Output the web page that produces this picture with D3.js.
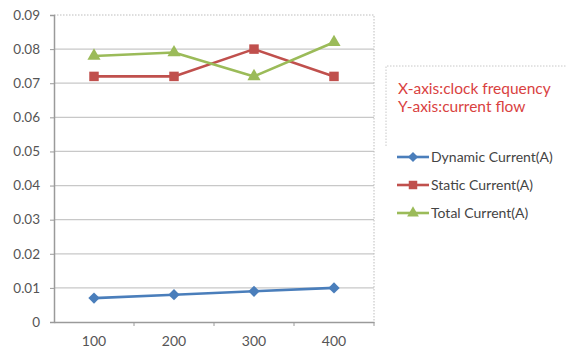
<!DOCTYPE html>
<html>
<head>
<meta charset="utf-8">
<script src="https://cdn.jsdelivr.net/npm/d3@7"></script>
<style>
  html, body { margin: 0; padding: 0; background: #fff; }
  svg { display: block; }
  text { font-family: Lato, "Open Sans", sans-serif; }
</style>
</head>
<body>
<svg id="chart" width="566" height="356"></svg>
<script>
// Clock frequency categories and measured currents (A)
const frequencies = ["100", "200", "300", "400"];
const dynamicCurrent = [0.007, 0.008, 0.009, 0.010];
const staticCurrent = [0.072, 0.072, 0.080, 0.072];
const totalCurrent = [0.078, 0.079, 0.072, 0.082];
const yTicks = [0, 0.01, 0.02, 0.03, 0.04, 0.05, 0.06, 0.07, 0.08, 0.09];
const seriesNames = ["Dynamic Current(A)", "Static Current(A)", "Total Current(A)"];
const noteLines = ["X-axis:clock frequency", "Y-axis:current flow"];

const series = [
  { name: seriesNames[0], values: dynamicCurrent, color: "#4a7ebb", symbol: d3.symbolSquare, size: 64, rotate: 45 },
  { name: seriesNames[1], values: staticCurrent, color: "#c0504d", symbol: d3.symbolSquare, size: 90, rotate: 0 },
  { name: seriesNames[2], values: totalCurrent, color: "#9bbb59", symbol: d3.symbolTriangle, size: 75, rotate: 0 }
];

const svg = d3.select("#chart");
const plot = { left: 54, right: 374, top: 15, bottom: 322 };

const x = d3.scaleBand().domain(frequencies).range([plot.left, plot.right]);
const y = d3.scaleLinear().domain([0, 0.09]).range([plot.bottom, plot.top]);

// Horizontal gridlines
svg.append("g")
  .selectAll("line")
  .data(yTicks.filter(t => t > 0 && t < 0.09))
  .join("line")
  .attr("x1", plot.left).attr("x2", plot.right)
  .attr("y1", d => y(d)).attr("y2", d => y(d))
  .attr("stroke", "#c8c8c8").attr("stroke-width", 1.2);

// Dotted plot-area border on top and right
svg.append("path")
  .attr("d", `M${plot.left},${y(0.09)}H${plot.right}V${plot.bottom}`)
  .attr("fill", "none").attr("stroke", "#bdbdbd")
  .attr("stroke-width", 1).attr("stroke-dasharray", "1.5,1.5");

// Y axis
const yAxis = svg.append("g")
  .attr("transform", `translate(${plot.left},0)`)
  .call(d3.axisLeft(y).tickValues(yTicks).tickFormat(d => d === 0 ? "0" : d3.format(".2f")(d)).tickSize(4).tickPadding(10));
yAxis.select(".domain").attr("stroke", "#9a9a9a").attr("stroke-width", 1.5);
yAxis.selectAll(".tick line").attr("stroke", "#9a9a9a");
yAxis.selectAll(".tick text").attr("fill", "#555").style("font-size", "13.5px");

// X axis with ticks on band boundaries
const xAxis = svg.append("g")
  .attr("transform", `translate(0,${plot.bottom})`)
  .call(d3.axisBottom(x).tickSize(0).tickPadding(14));
xAxis.select(".domain").attr("stroke", "#9a9a9a").attr("stroke-width", 1.5);
xAxis.selectAll(".tick text").attr("fill", "#555").style("font-size", "14px");
xAxis.append("g")
  .selectAll("line")
  .data(frequencies.slice(1).concat(["end"]))
  .join("line")
  .attr("x1", (d, i) => plot.left + (i + 1) * x.bandwidth())
  .attr("x2", (d, i) => plot.left + (i + 1) * x.bandwidth())
  .attr("y1", 0).attr("y2", 4)
  .attr("stroke", "#9a9a9a");

// Series lines and markers
const line = d3.line().x((d, i) => x(frequencies[i]) + x.bandwidth() / 2).y(d => y(d));
series.forEach(s => {
  svg.append("path")
    .datum(s.values)
    .attr("d", line)
    .attr("fill", "none")
    .attr("stroke", s.color)
    .attr("stroke-width", 2.6)
    .attr("stroke-linejoin", "round");
  svg.append("g")
    .selectAll("path")
    .data(s.values)
    .join("path")
    .attr("transform", (d, i) => `translate(${x(frequencies[i]) + x.bandwidth() / 2},${y(d)}) rotate(${s.rotate})`)
    .attr("d", d3.symbol().type(s.symbol).size(s.size))
    .attr("fill", s.color);
});

// Axis description box
const note = svg.append("g");
note.append("path")
  .attr("d", "M386,146V66H566")
  .attr("fill", "none").attr("stroke", "#c8c8c8")
  .attr("stroke-dasharray", "1.5,1.5");
note.selectAll("text")
  .data(noteLines)
  .join("text")
  .attr("x", 398)
  .attr("y", (d, i) => 94 + i * 18)
  .attr("fill", "#d9423f")
  .style("font-size", "15.5px")
  .text(d => d);

// Legend
const legend = svg.append("g");
series.forEach((s, i) => {
  const ly = 157 + i * 28;
  legend.append("line")
    .attr("x1", 397).attr("x2", 429)
    .attr("y1", ly).attr("y2", ly)
    .attr("stroke", s.color).attr("stroke-width", 2.6);
  legend.append("path")
    .attr("transform", `translate(413,${ly}) rotate(${s.rotate})`)
    .attr("d", d3.symbol().type(s.symbol).size(s.size * 0.8))
    .attr("fill", s.color);
  legend.append("text")
    .attr("x", 431).attr("y", ly + 5)
    .attr("fill", "#444")
    .style("font-size", "14px")
    .text(s.name);
});
</script>
</body>
</html>
